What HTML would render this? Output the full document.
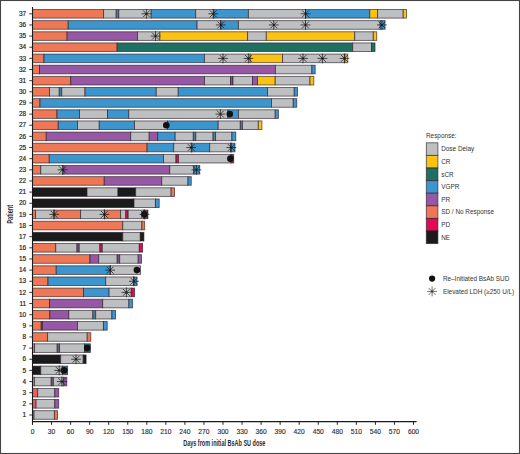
<!DOCTYPE html>
<html><head><meta charset="utf-8"><style>
html,body{margin:0;padding:0;background:#fff;}
body{width:520px;height:454px;overflow:hidden;}
svg{display:block;}
text{font-family:"Liberation Sans",sans-serif;}
</style></head><body>
<svg width="520" height="454" viewBox="0 0 520 454">
<rect x="0.5" y="0.5" width="519" height="453" fill="#fff" stroke="#444" stroke-width="1.1"/>
<g>
<rect x="32.50" y="9.50" width="71.10" height="8.6" fill="#EE7855" stroke="rgba(40,30,40,0.7)" stroke-width="0.9"/>
<rect x="103.60" y="9.50" width="12.60" height="8.6" fill="#BEBFC0" stroke="rgba(40,30,40,0.7)" stroke-width="0.9"/>
<rect x="116.20" y="9.50" width="2.60" height="8.6" fill="#4A7F98" stroke="rgba(40,30,40,0.7)" stroke-width="0.9"/>
<rect x="118.80" y="9.50" width="32.40" height="8.6" fill="#BEBFC0" stroke="rgba(40,30,40,0.7)" stroke-width="0.9"/>
<rect x="151.20" y="9.50" width="44.50" height="8.6" fill="#3C96CD" stroke="rgba(40,30,40,0.7)" stroke-width="0.9"/>
<rect x="195.70" y="9.50" width="18.10" height="8.6" fill="#BEBFC0" stroke="rgba(40,30,40,0.7)" stroke-width="0.9"/>
<rect x="213.80" y="9.50" width="34.60" height="8.6" fill="#3C96CD" stroke="rgba(40,30,40,0.7)" stroke-width="0.9"/>
<rect x="248.40" y="9.50" width="57.10" height="8.6" fill="#BEBFC0" stroke="rgba(40,30,40,0.7)" stroke-width="0.9"/>
<rect x="305.50" y="9.50" width="64.30" height="8.6" fill="#3C96CD" stroke="rgba(40,30,40,0.7)" stroke-width="0.9"/>
<rect x="369.80" y="9.50" width="7.80" height="8.6" fill="#FAC314" stroke="rgba(40,30,40,0.7)" stroke-width="0.9"/>
<rect x="377.60" y="9.50" width="25.60" height="8.6" fill="#BEBFC0" stroke="rgba(40,30,40,0.7)" stroke-width="0.9"/>
<rect x="403.20" y="9.50" width="3.30" height="8.6" fill="#FAC314" stroke="rgba(40,30,40,0.7)" stroke-width="0.9"/>
<path d="M141.50 13.80L151.30 13.80M142.94 10.34L149.86 17.26M146.40 8.90L146.40 18.70M149.86 10.34L142.94 17.26" stroke="#1a1a1a" stroke-width="0.75" fill="none"/><circle cx="146.40" cy="13.80" r="0.9" fill="#1a1a1a"/>
<path d="M208.30 13.80L218.10 13.80M209.74 10.34L216.66 17.26M213.20 8.90L213.20 18.70M216.66 10.34L209.74 17.26" stroke="#1a1a1a" stroke-width="0.75" fill="none"/><circle cx="213.20" cy="13.80" r="0.9" fill="#1a1a1a"/>
<path d="M300.60 13.80L310.40 13.80M302.04 10.34L308.96 17.26M305.50 8.90L305.50 18.70M308.96 10.34L302.04 17.26" stroke="#1a1a1a" stroke-width="0.75" fill="none"/><circle cx="305.50" cy="13.80" r="0.9" fill="#1a1a1a"/>
<rect x="32.50" y="20.64" width="35.70" height="8.6" fill="#EE7855" stroke="rgba(40,30,40,0.7)" stroke-width="0.9"/>
<rect x="68.20" y="20.64" width="128.90" height="8.6" fill="#3C96CD" stroke="rgba(40,30,40,0.7)" stroke-width="0.9"/>
<rect x="197.10" y="20.64" width="23.70" height="8.6" fill="#BEBFC0" stroke="rgba(40,30,40,0.7)" stroke-width="0.9"/>
<rect x="220.80" y="20.64" width="17.60" height="8.6" fill="#3C96CD" stroke="rgba(40,30,40,0.7)" stroke-width="0.9"/>
<rect x="238.40" y="20.64" width="141.80" height="8.6" fill="#BEBFC0" stroke="rgba(40,30,40,0.7)" stroke-width="0.9"/>
<rect x="380.20" y="20.64" width="4.80" height="8.6" fill="#3C96CD" stroke="rgba(40,30,40,0.7)" stroke-width="0.9"/>
<path d="M215.90 24.94L225.70 24.94M217.34 21.48L224.26 28.41M220.80 20.04L220.80 29.84M224.26 21.48L217.34 28.41" stroke="#1a1a1a" stroke-width="0.75" fill="none"/><circle cx="220.80" cy="24.94" r="0.9" fill="#1a1a1a"/>
<path d="M268.90 24.94L278.70 24.94M270.34 21.48L277.26 28.41M273.80 20.04L273.80 29.84M277.26 21.48L270.34 28.41" stroke="#1a1a1a" stroke-width="0.75" fill="none"/><circle cx="273.80" cy="24.94" r="0.9" fill="#1a1a1a"/>
<path d="M300.60 24.94L310.40 24.94M302.04 21.48L308.96 28.41M305.50 20.04L305.50 29.84M308.96 21.48L302.04 28.41" stroke="#1a1a1a" stroke-width="0.75" fill="none"/><circle cx="305.50" cy="24.94" r="0.9" fill="#1a1a1a"/>
<path d="M377.00 24.94L386.80 24.94M378.44 21.48L385.36 28.41M381.90 20.04L381.90 29.84M385.36 21.48L378.44 28.41" stroke="#1a1a1a" stroke-width="0.75" fill="none"/><circle cx="381.90" cy="24.94" r="0.9" fill="#1a1a1a"/>
<rect x="32.50" y="31.79" width="34.60" height="8.6" fill="#EE7855" stroke="rgba(40,30,40,0.7)" stroke-width="0.9"/>
<rect x="67.10" y="31.79" width="70.40" height="8.6" fill="#9658A5" stroke="rgba(40,30,40,0.7)" stroke-width="0.9"/>
<rect x="137.50" y="31.79" width="22.40" height="8.6" fill="#BEBFC0" stroke="rgba(40,30,40,0.7)" stroke-width="0.9"/>
<rect x="159.90" y="31.79" width="87.70" height="8.6" fill="#FAC314" stroke="rgba(40,30,40,0.7)" stroke-width="0.9"/>
<rect x="247.60" y="31.79" width="18.70" height="8.6" fill="#BEBFC0" stroke="rgba(40,30,40,0.7)" stroke-width="0.9"/>
<rect x="266.30" y="31.79" width="88.40" height="8.6" fill="#FAC314" stroke="rgba(40,30,40,0.7)" stroke-width="0.9"/>
<rect x="354.70" y="31.79" width="18.60" height="8.6" fill="#BEBFC0" stroke="rgba(40,30,40,0.7)" stroke-width="0.9"/>
<rect x="373.30" y="31.79" width="3.40" height="8.6" fill="#FAC314" stroke="rgba(40,30,40,0.7)" stroke-width="0.9"/>
<path d="M150.60 36.09L160.40 36.09M152.04 32.62L158.96 39.55M155.50 31.19L155.50 40.99M158.96 32.62L152.04 39.55" stroke="#1a1a1a" stroke-width="0.75" fill="none"/><circle cx="155.50" cy="36.09" r="0.9" fill="#1a1a1a"/>
<rect x="32.50" y="42.93" width="84.60" height="8.6" fill="#EE7855" stroke="rgba(40,30,40,0.7)" stroke-width="0.9"/>
<rect x="117.10" y="42.93" width="235.60" height="8.6" fill="#1E7062" stroke="rgba(40,30,40,0.7)" stroke-width="0.9"/>
<rect x="352.70" y="42.93" width="18.80" height="8.6" fill="#BEBFC0" stroke="rgba(40,30,40,0.7)" stroke-width="0.9"/>
<rect x="371.50" y="42.93" width="3.50" height="8.6" fill="#1E7062" stroke="rgba(40,30,40,0.7)" stroke-width="0.9"/>
<rect x="32.50" y="54.08" width="11.50" height="8.6" fill="#EE7855" stroke="rgba(40,30,40,0.7)" stroke-width="0.9"/>
<rect x="44.00" y="54.08" width="160.40" height="8.6" fill="#3C96CD" stroke="rgba(40,30,40,0.7)" stroke-width="0.9"/>
<rect x="204.40" y="54.08" width="45.80" height="8.6" fill="#BEBFC0" stroke="rgba(40,30,40,0.7)" stroke-width="0.9"/>
<rect x="250.20" y="54.08" width="32.40" height="8.6" fill="#FAC314" stroke="rgba(40,30,40,0.7)" stroke-width="0.9"/>
<rect x="282.60" y="54.08" width="62.30" height="8.6" fill="#BEBFC0" stroke="rgba(40,30,40,0.7)" stroke-width="0.9"/>
<rect x="344.90" y="54.08" width="2.90" height="8.6" fill="#FAC314" stroke="rgba(40,30,40,0.7)" stroke-width="0.9"/>
<path d="M218.10 58.38L227.90 58.38M219.54 54.91L226.46 61.84M223.00 53.48L223.00 63.28M226.46 54.91L219.54 61.84" stroke="#1a1a1a" stroke-width="0.75" fill="none"/><circle cx="223.00" cy="58.38" r="0.9" fill="#1a1a1a"/>
<path d="M243.50 58.38L253.30 58.38M244.94 54.91L251.86 61.84M248.40 53.48L248.40 63.28M251.86 54.91L244.94 61.84" stroke="#1a1a1a" stroke-width="0.75" fill="none"/><circle cx="248.40" cy="58.38" r="0.9" fill="#1a1a1a"/>
<path d="M298.10 58.38L307.90 58.38M299.54 54.91L306.46 61.84M303.00 53.48L303.00 63.28M306.46 54.91L299.54 61.84" stroke="#1a1a1a" stroke-width="0.75" fill="none"/><circle cx="303.00" cy="58.38" r="0.9" fill="#1a1a1a"/>
<path d="M317.50 58.38L327.30 58.38M318.94 54.91L325.86 61.84M322.40 53.48L322.40 63.28M325.86 54.91L318.94 61.84" stroke="#1a1a1a" stroke-width="0.75" fill="none"/><circle cx="322.40" cy="58.38" r="0.9" fill="#1a1a1a"/>
<path d="M339.50 58.38L349.30 58.38M340.94 54.91L347.86 61.84M344.40 53.48L344.40 63.28M347.86 54.91L340.94 61.84" stroke="#1a1a1a" stroke-width="0.75" fill="none"/><circle cx="344.40" cy="58.38" r="0.9" fill="#1a1a1a"/>
<rect x="32.50" y="65.22" width="7.00" height="8.6" fill="#EE7855" stroke="rgba(40,30,40,0.7)" stroke-width="0.9"/>
<rect x="39.50" y="65.22" width="235.90" height="8.6" fill="#9658A5" stroke="rgba(40,30,40,0.7)" stroke-width="0.9"/>
<rect x="275.40" y="65.22" width="36.50" height="8.6" fill="#BEBFC0" stroke="rgba(40,30,40,0.7)" stroke-width="0.9"/>
<rect x="311.90" y="65.22" width="3.30" height="8.6" fill="#3C96CD" stroke="rgba(40,30,40,0.7)" stroke-width="0.9"/>
<rect x="32.50" y="76.36" width="38.25" height="8.6" fill="#EE7855" stroke="rgba(40,30,40,0.7)" stroke-width="0.9"/>
<rect x="70.75" y="76.36" width="133.75" height="8.6" fill="#9658A5" stroke="rgba(40,30,40,0.7)" stroke-width="0.9"/>
<rect x="204.50" y="76.36" width="26.00" height="8.6" fill="#BEBFC0" stroke="rgba(40,30,40,0.7)" stroke-width="0.9"/>
<rect x="230.50" y="76.36" width="2.50" height="8.6" fill="#6E5A78" stroke="rgba(40,30,40,0.7)" stroke-width="0.9"/>
<rect x="233.00" y="76.36" width="19.50" height="8.6" fill="#BEBFC0" stroke="rgba(40,30,40,0.7)" stroke-width="0.9"/>
<rect x="252.50" y="76.36" width="5.00" height="8.6" fill="#9658A5" stroke="rgba(40,30,40,0.7)" stroke-width="0.9"/>
<rect x="257.50" y="76.36" width="17.70" height="8.6" fill="#FAC314" stroke="rgba(40,30,40,0.7)" stroke-width="0.9"/>
<rect x="275.20" y="76.36" width="34.80" height="8.6" fill="#BEBFC0" stroke="rgba(40,30,40,0.7)" stroke-width="0.9"/>
<rect x="310.00" y="76.36" width="3.80" height="8.6" fill="#FAC314" stroke="rgba(40,30,40,0.7)" stroke-width="0.9"/>
<rect x="32.50" y="87.51" width="17.00" height="8.6" fill="#EE7855" stroke="rgba(40,30,40,0.7)" stroke-width="0.9"/>
<rect x="49.50" y="87.51" width="9.75" height="8.6" fill="#BEBFC0" stroke="rgba(40,30,40,0.7)" stroke-width="0.9"/>
<rect x="59.25" y="87.51" width="2.50" height="8.6" fill="#4A7F98" stroke="rgba(40,30,40,0.7)" stroke-width="0.9"/>
<rect x="61.75" y="87.51" width="23.25" height="8.6" fill="#BEBFC0" stroke="rgba(40,30,40,0.7)" stroke-width="0.9"/>
<rect x="85.00" y="87.51" width="71.25" height="8.6" fill="#3C96CD" stroke="rgba(40,30,40,0.7)" stroke-width="0.9"/>
<rect x="156.25" y="87.51" width="22.00" height="8.6" fill="#BEBFC0" stroke="rgba(40,30,40,0.7)" stroke-width="0.9"/>
<rect x="178.25" y="87.51" width="89.25" height="8.6" fill="#3C96CD" stroke="rgba(40,30,40,0.7)" stroke-width="0.9"/>
<rect x="267.50" y="87.51" width="26.75" height="8.6" fill="#BEBFC0" stroke="rgba(40,30,40,0.7)" stroke-width="0.9"/>
<rect x="294.25" y="87.51" width="3.25" height="8.6" fill="#3C96CD" stroke="rgba(40,30,40,0.7)" stroke-width="0.9"/>
<rect x="32.50" y="98.65" width="7.50" height="8.6" fill="#EE7855" stroke="rgba(40,30,40,0.7)" stroke-width="0.9"/>
<rect x="40.00" y="98.65" width="231.50" height="8.6" fill="#3C96CD" stroke="rgba(40,30,40,0.7)" stroke-width="0.9"/>
<rect x="271.50" y="98.65" width="21.75" height="8.6" fill="#BEBFC0" stroke="rgba(40,30,40,0.7)" stroke-width="0.9"/>
<rect x="293.25" y="98.65" width="3.50" height="8.6" fill="#3C96CD" stroke="rgba(40,30,40,0.7)" stroke-width="0.9"/>
<rect x="32.50" y="109.80" width="24.50" height="8.6" fill="#EE7855" stroke="rgba(40,30,40,0.7)" stroke-width="0.9"/>
<rect x="57.00" y="109.80" width="22.50" height="8.6" fill="#3C96CD" stroke="rgba(40,30,40,0.7)" stroke-width="0.9"/>
<rect x="79.50" y="109.80" width="28.00" height="8.6" fill="#BEBFC0" stroke="rgba(40,30,40,0.7)" stroke-width="0.9"/>
<rect x="107.50" y="109.80" width="21.25" height="8.6" fill="#3C96CD" stroke="rgba(40,30,40,0.7)" stroke-width="0.9"/>
<rect x="128.75" y="109.80" width="99.25" height="8.6" fill="#BEBFC0" stroke="rgba(40,30,40,0.7)" stroke-width="0.9"/>
<rect x="228.00" y="109.80" width="10.40" height="8.6" fill="#3C96CD" stroke="rgba(40,30,40,0.7)" stroke-width="0.9"/>
<rect x="238.40" y="109.80" width="36.80" height="8.6" fill="#BEBFC0" stroke="rgba(40,30,40,0.7)" stroke-width="0.9"/>
<rect x="275.20" y="109.80" width="3.20" height="8.6" fill="#3C96CD" stroke="rgba(40,30,40,0.7)" stroke-width="0.9"/>
<circle cx="229.80" cy="114.10" r="3.3" fill="#111"/>
<path d="M215.50 114.10L225.30 114.10M216.94 110.63L223.86 117.56M220.40 109.20L220.40 119.00M223.86 110.63L216.94 117.56" stroke="#1a1a1a" stroke-width="0.75" fill="none"/><circle cx="220.40" cy="114.10" r="0.9" fill="#1a1a1a"/>
<rect x="32.50" y="120.94" width="25.75" height="8.6" fill="#EE7855" stroke="rgba(40,30,40,0.7)" stroke-width="0.9"/>
<rect x="58.25" y="120.94" width="19.25" height="8.6" fill="#3C96CD" stroke="rgba(40,30,40,0.7)" stroke-width="0.9"/>
<rect x="77.50" y="120.94" width="21.75" height="8.6" fill="#BEBFC0" stroke="rgba(40,30,40,0.7)" stroke-width="0.9"/>
<rect x="99.25" y="120.94" width="35.25" height="8.6" fill="#3C96CD" stroke="rgba(40,30,40,0.7)" stroke-width="0.9"/>
<rect x="134.50" y="120.94" width="33.00" height="8.6" fill="#BEBFC0" stroke="rgba(40,30,40,0.7)" stroke-width="0.9"/>
<rect x="167.50" y="120.94" width="50.70" height="8.6" fill="#3C96CD" stroke="rgba(40,30,40,0.7)" stroke-width="0.9"/>
<rect x="218.20" y="120.94" width="22.10" height="8.6" fill="#BEBFC0" stroke="rgba(40,30,40,0.7)" stroke-width="0.9"/>
<rect x="240.30" y="120.94" width="2.10" height="8.6" fill="#4A7F98" stroke="rgba(40,30,40,0.7)" stroke-width="0.9"/>
<rect x="242.40" y="120.94" width="15.90" height="8.6" fill="#BEBFC0" stroke="rgba(40,30,40,0.7)" stroke-width="0.9"/>
<rect x="258.30" y="120.94" width="3.60" height="8.6" fill="#FAC314" stroke="rgba(40,30,40,0.7)" stroke-width="0.9"/>
<circle cx="166.30" cy="125.24" r="3.3" fill="#111"/>
<rect x="32.50" y="132.08" width="13.75" height="8.6" fill="#EE7855" stroke="rgba(40,30,40,0.7)" stroke-width="0.9"/>
<rect x="46.25" y="132.08" width="84.50" height="8.6" fill="#9658A5" stroke="rgba(40,30,40,0.7)" stroke-width="0.9"/>
<rect x="130.75" y="132.08" width="18.45" height="8.6" fill="#BEBFC0" stroke="rgba(40,30,40,0.7)" stroke-width="0.9"/>
<rect x="149.20" y="132.08" width="8.50" height="8.6" fill="#9658A5" stroke="rgba(40,30,40,0.7)" stroke-width="0.9"/>
<rect x="157.70" y="132.08" width="17.50" height="8.6" fill="#3C96CD" stroke="rgba(40,30,40,0.7)" stroke-width="0.9"/>
<rect x="175.20" y="132.08" width="18.10" height="8.6" fill="#BEBFC0" stroke="rgba(40,30,40,0.7)" stroke-width="0.9"/>
<rect x="193.30" y="132.08" width="2.50" height="8.6" fill="#4A7F98" stroke="rgba(40,30,40,0.7)" stroke-width="0.9"/>
<rect x="195.80" y="132.08" width="17.30" height="8.6" fill="#BEBFC0" stroke="rgba(40,30,40,0.7)" stroke-width="0.9"/>
<rect x="213.10" y="132.08" width="2.50" height="8.6" fill="#4A7F98" stroke="rgba(40,30,40,0.7)" stroke-width="0.9"/>
<rect x="215.60" y="132.08" width="16.30" height="8.6" fill="#BEBFC0" stroke="rgba(40,30,40,0.7)" stroke-width="0.9"/>
<rect x="231.90" y="132.08" width="3.90" height="8.6" fill="#3C96CD" stroke="rgba(40,30,40,0.7)" stroke-width="0.9"/>
<rect x="32.50" y="143.23" width="114.60" height="8.6" fill="#EE7855" stroke="rgba(40,30,40,0.7)" stroke-width="0.9"/>
<rect x="147.10" y="143.23" width="26.60" height="8.6" fill="#3C96CD" stroke="rgba(40,30,40,0.7)" stroke-width="0.9"/>
<rect x="173.70" y="143.23" width="18.20" height="8.6" fill="#BEBFC0" stroke="rgba(40,30,40,0.7)" stroke-width="0.9"/>
<rect x="191.90" y="143.23" width="17.80" height="8.6" fill="#3C96CD" stroke="rgba(40,30,40,0.7)" stroke-width="0.9"/>
<rect x="209.70" y="143.23" width="20.80" height="8.6" fill="#BEBFC0" stroke="rgba(40,30,40,0.7)" stroke-width="0.9"/>
<rect x="230.50" y="143.23" width="4.50" height="8.6" fill="#3C96CD" stroke="rgba(40,30,40,0.7)" stroke-width="0.9"/>
<path d="M186.30 147.53L196.10 147.53M187.74 144.06L194.66 150.99M191.20 142.63L191.20 152.43M194.66 144.06L187.74 150.99" stroke="#1a1a1a" stroke-width="0.75" fill="none"/><circle cx="191.20" cy="147.53" r="0.9" fill="#1a1a1a"/>
<path d="M226.40 147.53L236.20 147.53M227.84 144.06L234.76 150.99M231.30 142.63L231.30 152.43M234.76 144.06L227.84 150.99" stroke="#1a1a1a" stroke-width="0.75" fill="none"/><circle cx="231.30" cy="147.53" r="0.9" fill="#1a1a1a"/>
<rect x="32.50" y="154.37" width="16.75" height="8.6" fill="#EE7855" stroke="rgba(40,30,40,0.7)" stroke-width="0.9"/>
<rect x="49.25" y="154.37" width="114.25" height="8.6" fill="#3C96CD" stroke="rgba(40,30,40,0.7)" stroke-width="0.9"/>
<rect x="163.50" y="154.37" width="12.50" height="8.6" fill="#BEBFC0" stroke="rgba(40,30,40,0.7)" stroke-width="0.9"/>
<rect x="176.00" y="154.37" width="2.50" height="8.6" fill="#E00A55" stroke="rgba(40,30,40,0.7)" stroke-width="0.9"/>
<rect x="178.50" y="154.37" width="52.50" height="8.6" fill="#BEBFC0" stroke="rgba(40,30,40,0.7)" stroke-width="0.9"/>
<rect x="231.00" y="154.37" width="2.70" height="8.6" fill="#B02850" stroke="rgba(40,30,40,0.7)" stroke-width="0.9"/>
<circle cx="230.40" cy="158.67" r="3.3" fill="#111"/>
<rect x="32.50" y="165.52" width="8.25" height="8.6" fill="#EE7855" stroke="rgba(40,30,40,0.7)" stroke-width="0.9"/>
<rect x="40.75" y="165.52" width="23.00" height="8.6" fill="#BEBFC0" stroke="rgba(40,30,40,0.7)" stroke-width="0.9"/>
<rect x="63.75" y="165.52" width="106.05" height="8.6" fill="#9658A5" stroke="rgba(40,30,40,0.7)" stroke-width="0.9"/>
<rect x="169.80" y="165.52" width="24.00" height="8.6" fill="#BEBFC0" stroke="rgba(40,30,40,0.7)" stroke-width="0.9"/>
<rect x="193.80" y="165.52" width="5.90" height="8.6" fill="#3C96CD" stroke="rgba(40,30,40,0.7)" stroke-width="0.9"/>
<path d="M57.60 169.82L67.40 169.82M59.04 166.35L65.96 173.28M62.50 164.92L62.50 174.72M65.96 166.35L59.04 173.28" stroke="#1a1a1a" stroke-width="0.75" fill="none"/><circle cx="62.50" cy="169.82" r="0.9" fill="#1a1a1a"/>
<path d="M191.50 169.82L201.30 169.82M192.94 166.35L199.86 173.28M196.40 164.92L196.40 174.72M199.86 166.35L192.94 173.28" stroke="#1a1a1a" stroke-width="0.75" fill="none"/><circle cx="196.40" cy="169.82" r="0.9" fill="#1a1a1a"/>
<rect x="32.50" y="176.66" width="71.75" height="8.6" fill="#EE7855" stroke="rgba(40,30,40,0.7)" stroke-width="0.9"/>
<rect x="104.25" y="176.66" width="57.50" height="8.6" fill="#9658A5" stroke="rgba(40,30,40,0.7)" stroke-width="0.9"/>
<rect x="161.75" y="176.66" width="26.25" height="8.6" fill="#BEBFC0" stroke="rgba(40,30,40,0.7)" stroke-width="0.9"/>
<rect x="188.00" y="176.66" width="3.25" height="8.6" fill="#3C96CD" stroke="rgba(40,30,40,0.7)" stroke-width="0.9"/>
<rect x="32.50" y="187.80" width="54.50" height="8.6" fill="#1A1B1A" stroke="rgba(40,30,40,0.7)" stroke-width="0.9"/>
<rect x="87.00" y="187.80" width="31.00" height="8.6" fill="#BEBFC0" stroke="rgba(40,30,40,0.7)" stroke-width="0.9"/>
<rect x="118.00" y="187.80" width="17.70" height="8.6" fill="#1A1B1A" stroke="rgba(40,30,40,0.7)" stroke-width="0.9"/>
<rect x="135.70" y="187.80" width="35.40" height="8.6" fill="#BEBFC0" stroke="rgba(40,30,40,0.7)" stroke-width="0.9"/>
<rect x="171.10" y="187.80" width="3.40" height="8.6" fill="#EE7855" stroke="rgba(40,30,40,0.7)" stroke-width="0.9"/>
<rect x="32.50" y="198.95" width="101.50" height="8.6" fill="#1A1B1A" stroke="rgba(40,30,40,0.7)" stroke-width="0.9"/>
<rect x="134.00" y="198.95" width="21.40" height="8.6" fill="#BEBFC0" stroke="rgba(40,30,40,0.7)" stroke-width="0.9"/>
<rect x="155.40" y="198.95" width="3.80" height="8.6" fill="#3C96CD" stroke="rgba(40,30,40,0.7)" stroke-width="0.9"/>
<rect x="32.50" y="210.09" width="3.10" height="8.6" fill="#EE7855" stroke="rgba(40,30,40,0.7)" stroke-width="0.9"/>
<rect x="35.60" y="210.09" width="18.40" height="8.6" fill="#BEBFC0" stroke="rgba(40,30,40,0.7)" stroke-width="0.9"/>
<rect x="54.00" y="210.09" width="26.60" height="8.6" fill="#EE7855" stroke="rgba(40,30,40,0.7)" stroke-width="0.9"/>
<rect x="80.60" y="210.09" width="23.80" height="8.6" fill="#BEBFC0" stroke="rgba(40,30,40,0.7)" stroke-width="0.9"/>
<rect x="104.40" y="210.09" width="16.20" height="8.6" fill="#EE7855" stroke="rgba(40,30,40,0.7)" stroke-width="0.9"/>
<rect x="120.60" y="210.09" width="5.20" height="8.6" fill="#BEBFC0" stroke="rgba(40,30,40,0.7)" stroke-width="0.9"/>
<rect x="125.80" y="210.09" width="2.40" height="8.6" fill="#E00A55" stroke="rgba(40,30,40,0.7)" stroke-width="0.9"/>
<rect x="128.20" y="210.09" width="15.60" height="8.6" fill="#BEBFC0" stroke="rgba(40,30,40,0.7)" stroke-width="0.9"/>
<rect x="143.80" y="210.09" width="4.10" height="8.6" fill="#B02850" stroke="rgba(40,30,40,0.7)" stroke-width="0.9"/>
<circle cx="144.30" cy="214.39" r="3.3" fill="#111"/>
<path d="M49.30 214.39L59.10 214.39M50.74 210.93L57.66 217.86M54.20 209.49L54.20 219.29M57.66 210.93L50.74 217.86" stroke="#1a1a1a" stroke-width="0.75" fill="none"/><circle cx="54.20" cy="214.39" r="0.9" fill="#1a1a1a"/>
<path d="M99.50 214.39L109.30 214.39M100.94 210.93L107.86 217.86M104.40 209.49L104.40 219.29M107.86 210.93L100.94 217.86" stroke="#1a1a1a" stroke-width="0.75" fill="none"/><circle cx="104.40" cy="214.39" r="0.9" fill="#1a1a1a"/>
<path d="M139.60 214.39L149.40 214.39M141.04 210.93L147.96 217.86M144.50 209.49L144.50 219.29M147.96 210.93L141.04 217.86" stroke="#1a1a1a" stroke-width="0.75" fill="none"/><circle cx="144.50" cy="214.39" r="0.9" fill="#1a1a1a"/>
<rect x="32.50" y="221.24" width="90.25" height="8.6" fill="#EE7855" stroke="rgba(40,30,40,0.7)" stroke-width="0.9"/>
<rect x="122.75" y="221.24" width="19.15" height="8.6" fill="#BEBFC0" stroke="rgba(40,30,40,0.7)" stroke-width="0.9"/>
<rect x="141.90" y="221.24" width="2.80" height="8.6" fill="#EE7855" stroke="rgba(40,30,40,0.7)" stroke-width="0.9"/>
<rect x="32.50" y="232.38" width="90.30" height="8.6" fill="#1A1B1A" stroke="rgba(40,30,40,0.7)" stroke-width="0.9"/>
<rect x="122.80" y="232.38" width="17.50" height="8.6" fill="#BEBFC0" stroke="rgba(40,30,40,0.7)" stroke-width="0.9"/>
<rect x="140.30" y="232.38" width="3.60" height="8.6" fill="#1A1B1A" stroke="rgba(40,30,40,0.7)" stroke-width="0.9"/>
<rect x="32.50" y="243.52" width="23.25" height="8.6" fill="#EE7855" stroke="rgba(40,30,40,0.7)" stroke-width="0.9"/>
<rect x="55.75" y="243.52" width="21.25" height="8.6" fill="#BEBFC0" stroke="rgba(40,30,40,0.7)" stroke-width="0.9"/>
<rect x="77.00" y="243.52" width="2.25" height="8.6" fill="#6E5A78" stroke="rgba(40,30,40,0.7)" stroke-width="0.9"/>
<rect x="79.25" y="243.52" width="20.65" height="8.6" fill="#BEBFC0" stroke="rgba(40,30,40,0.7)" stroke-width="0.9"/>
<rect x="99.90" y="243.52" width="2.40" height="8.6" fill="#E00A55" stroke="rgba(40,30,40,0.7)" stroke-width="0.9"/>
<rect x="102.30" y="243.52" width="37.00" height="8.6" fill="#BEBFC0" stroke="rgba(40,30,40,0.7)" stroke-width="0.9"/>
<rect x="139.30" y="243.52" width="3.30" height="8.6" fill="#E00A55" stroke="rgba(40,30,40,0.7)" stroke-width="0.9"/>
<rect x="32.50" y="254.67" width="57.50" height="8.6" fill="#EE7855" stroke="rgba(40,30,40,0.7)" stroke-width="0.9"/>
<rect x="90.00" y="254.67" width="8.70" height="8.6" fill="#9658A5" stroke="rgba(40,30,40,0.7)" stroke-width="0.9"/>
<rect x="98.70" y="254.67" width="18.50" height="8.6" fill="#BEBFC0" stroke="rgba(40,30,40,0.7)" stroke-width="0.9"/>
<rect x="117.20" y="254.67" width="2.50" height="8.6" fill="#6E5A78" stroke="rgba(40,30,40,0.7)" stroke-width="0.9"/>
<rect x="119.70" y="254.67" width="18.50" height="8.6" fill="#BEBFC0" stroke="rgba(40,30,40,0.7)" stroke-width="0.9"/>
<rect x="138.20" y="254.67" width="3.30" height="8.6" fill="#9658A5" stroke="rgba(40,30,40,0.7)" stroke-width="0.9"/>
<rect x="32.50" y="265.81" width="23.75" height="8.6" fill="#EE7855" stroke="rgba(40,30,40,0.7)" stroke-width="0.9"/>
<rect x="56.25" y="265.81" width="54.15" height="8.6" fill="#3C96CD" stroke="rgba(40,30,40,0.7)" stroke-width="0.9"/>
<rect x="110.40" y="265.81" width="30.10" height="8.6" fill="#BEBFC0" stroke="rgba(40,30,40,0.7)" stroke-width="0.9"/>
<circle cx="136.90" cy="270.11" r="3.3" fill="#111"/>
<path d="M105.20 270.11L115.00 270.11M106.64 266.65L113.56 273.58M110.10 265.21L110.10 275.01M113.56 266.65L106.64 273.58" stroke="#1a1a1a" stroke-width="0.75" fill="none"/><circle cx="110.10" cy="270.11" r="0.9" fill="#1a1a1a"/>
<rect x="32.50" y="276.96" width="15.50" height="8.6" fill="#EE7855" stroke="rgba(40,30,40,0.7)" stroke-width="0.9"/>
<rect x="48.00" y="276.96" width="57.70" height="8.6" fill="#3C96CD" stroke="rgba(40,30,40,0.7)" stroke-width="0.9"/>
<rect x="105.70" y="276.96" width="28.00" height="8.6" fill="#BEBFC0" stroke="rgba(40,30,40,0.7)" stroke-width="0.9"/>
<rect x="133.70" y="276.96" width="3.30" height="8.6" fill="#3C96CD" stroke="rgba(40,30,40,0.7)" stroke-width="0.9"/>
<path d="M129.00 281.26L138.80 281.26M130.44 277.79L137.36 284.72M133.90 276.36L133.90 286.16M137.36 277.79L130.44 284.72" stroke="#1a1a1a" stroke-width="0.75" fill="none"/><circle cx="133.90" cy="281.26" r="0.9" fill="#1a1a1a"/>
<rect x="32.50" y="288.10" width="51.00" height="8.6" fill="#EE7855" stroke="rgba(40,30,40,0.7)" stroke-width="0.9"/>
<rect x="83.50" y="288.10" width="25.60" height="8.6" fill="#3C96CD" stroke="rgba(40,30,40,0.7)" stroke-width="0.9"/>
<rect x="109.10" y="288.10" width="22.15" height="8.6" fill="#BEBFC0" stroke="rgba(40,30,40,0.7)" stroke-width="0.9"/>
<rect x="131.25" y="288.10" width="3.35" height="8.6" fill="#E00A55" stroke="rgba(40,30,40,0.7)" stroke-width="0.9"/>
<path d="M121.50 292.40L131.30 292.40M122.94 288.94L129.86 295.86M126.40 287.50L126.40 297.30M129.86 288.94L122.94 295.86" stroke="#1a1a1a" stroke-width="0.75" fill="none"/><circle cx="126.40" cy="292.40" r="0.9" fill="#1a1a1a"/>
<rect x="32.50" y="299.24" width="17.10" height="8.6" fill="#EE7855" stroke="rgba(40,30,40,0.7)" stroke-width="0.9"/>
<rect x="49.60" y="299.24" width="53.10" height="8.6" fill="#9658A5" stroke="rgba(40,30,40,0.7)" stroke-width="0.9"/>
<rect x="102.70" y="299.24" width="26.20" height="8.6" fill="#BEBFC0" stroke="rgba(40,30,40,0.7)" stroke-width="0.9"/>
<rect x="128.90" y="299.24" width="3.70" height="8.6" fill="#3C96CD" stroke="rgba(40,30,40,0.7)" stroke-width="0.9"/>
<rect x="32.50" y="310.39" width="17.30" height="8.6" fill="#EE7855" stroke="rgba(40,30,40,0.7)" stroke-width="0.9"/>
<rect x="49.80" y="310.39" width="19.00" height="8.6" fill="#9658A5" stroke="rgba(40,30,40,0.7)" stroke-width="0.9"/>
<rect x="68.80" y="310.39" width="24.10" height="8.6" fill="#BEBFC0" stroke="rgba(40,30,40,0.7)" stroke-width="0.9"/>
<rect x="92.90" y="310.39" width="2.80" height="8.6" fill="#4A7F98" stroke="rgba(40,30,40,0.7)" stroke-width="0.9"/>
<rect x="95.70" y="310.39" width="16.20" height="8.6" fill="#BEBFC0" stroke="rgba(40,30,40,0.7)" stroke-width="0.9"/>
<rect x="111.90" y="310.39" width="3.70" height="8.6" fill="#3C96CD" stroke="rgba(40,30,40,0.7)" stroke-width="0.9"/>
<rect x="32.50" y="321.53" width="8.70" height="8.6" fill="#EE7855" stroke="rgba(40,30,40,0.7)" stroke-width="0.9"/>
<rect x="41.20" y="321.53" width="1.20" height="8.6" fill="#B02850" stroke="rgba(40,30,40,0.7)" stroke-width="0.9"/>
<rect x="42.40" y="321.53" width="35.10" height="8.6" fill="#9658A5" stroke="rgba(40,30,40,0.7)" stroke-width="0.9"/>
<rect x="77.50" y="321.53" width="25.90" height="8.6" fill="#BEBFC0" stroke="rgba(40,30,40,0.7)" stroke-width="0.9"/>
<rect x="103.40" y="321.53" width="3.80" height="8.6" fill="#3C96CD" stroke="rgba(40,30,40,0.7)" stroke-width="0.9"/>
<rect x="32.50" y="332.68" width="15.10" height="8.6" fill="#EE7855" stroke="rgba(40,30,40,0.7)" stroke-width="0.9"/>
<rect x="47.60" y="332.68" width="39.60" height="8.6" fill="#BEBFC0" stroke="rgba(40,30,40,0.7)" stroke-width="0.9"/>
<rect x="87.20" y="332.68" width="3.60" height="8.6" fill="#EE7855" stroke="rgba(40,30,40,0.7)" stroke-width="0.9"/>
<rect x="32.50" y="343.82" width="2.10" height="8.6" fill="#EE7855" stroke="rgba(40,30,40,0.7)" stroke-width="0.9"/>
<rect x="34.60" y="343.82" width="22.60" height="8.6" fill="#BEBFC0" stroke="rgba(40,30,40,0.7)" stroke-width="0.9"/>
<rect x="57.20" y="343.82" width="2.40" height="8.6" fill="#6E5A78" stroke="rgba(40,30,40,0.7)" stroke-width="0.9"/>
<rect x="59.60" y="343.82" width="25.00" height="8.6" fill="#BEBFC0" stroke="rgba(40,30,40,0.7)" stroke-width="0.9"/>
<rect x="84.60" y="343.82" width="5.80" height="8.6" fill="#1E7062" stroke="rgba(40,30,40,0.7)" stroke-width="0.9"/>
<circle cx="87.20" cy="348.12" r="3.3" fill="#111"/>
<rect x="32.50" y="354.96" width="28.20" height="8.6" fill="#1A1B1A" stroke="rgba(40,30,40,0.7)" stroke-width="0.9"/>
<rect x="60.70" y="354.96" width="22.50" height="8.6" fill="#BEBFC0" stroke="rgba(40,30,40,0.7)" stroke-width="0.9"/>
<rect x="83.20" y="354.96" width="2.90" height="8.6" fill="#1A1B1A" stroke="rgba(40,30,40,0.7)" stroke-width="0.9"/>
<path d="M71.10 359.26L80.90 359.26M72.54 355.80L79.46 362.73M76.00 354.36L76.00 364.16M79.46 355.80L72.54 362.73" stroke="#1a1a1a" stroke-width="0.75" fill="none"/><circle cx="76.00" cy="359.26" r="0.9" fill="#1a1a1a"/>
<rect x="32.50" y="366.11" width="8.30" height="8.6" fill="#1A1B1A" stroke="rgba(40,30,40,0.7)" stroke-width="0.9"/>
<rect x="40.80" y="366.11" width="21.60" height="8.6" fill="#BEBFC0" stroke="rgba(40,30,40,0.7)" stroke-width="0.9"/>
<rect x="62.40" y="366.11" width="5.20" height="8.6" fill="#4A7F98" stroke="rgba(40,30,40,0.7)" stroke-width="0.9"/>
<circle cx="64.20" cy="370.41" r="3.3" fill="#111"/>
<path d="M54.30 370.41L64.10 370.41M55.74 366.94L62.66 373.87M59.20 365.51L59.20 375.31M62.66 366.94L55.74 373.87" stroke="#1a1a1a" stroke-width="0.75" fill="none"/><circle cx="59.20" cy="370.41" r="0.9" fill="#1a1a1a"/>
<rect x="32.50" y="377.25" width="1.90" height="8.6" fill="#EE7855" stroke="rgba(40,30,40,0.7)" stroke-width="0.9"/>
<rect x="34.40" y="377.25" width="16.80" height="8.6" fill="#BEBFC0" stroke="rgba(40,30,40,0.7)" stroke-width="0.9"/>
<rect x="51.20" y="377.25" width="2.20" height="8.6" fill="#6E5A78" stroke="rgba(40,30,40,0.7)" stroke-width="0.9"/>
<rect x="53.40" y="377.25" width="9.90" height="8.6" fill="#BEBFC0" stroke="rgba(40,30,40,0.7)" stroke-width="0.9"/>
<rect x="63.30" y="377.25" width="3.50" height="8.6" fill="#9658A5" stroke="rgba(40,30,40,0.7)" stroke-width="0.9"/>
<path d="M56.90 381.55L66.70 381.55M58.34 378.09L65.26 385.02M61.80 376.65L61.80 386.45M65.26 378.09L58.34 385.02" stroke="#1a1a1a" stroke-width="0.75" fill="none"/><circle cx="61.80" cy="381.55" r="0.9" fill="#1a1a1a"/>
<rect x="32.50" y="388.40" width="5.20" height="8.6" fill="#EE5F5A" stroke="rgba(40,30,40,0.7)" stroke-width="0.9"/>
<rect x="37.70" y="388.40" width="17.10" height="8.6" fill="#BEBFC0" stroke="rgba(40,30,40,0.7)" stroke-width="0.9"/>
<rect x="54.80" y="388.40" width="3.90" height="8.6" fill="#9658A5" stroke="rgba(40,30,40,0.7)" stroke-width="0.9"/>
<rect x="32.50" y="399.54" width="3.60" height="8.6" fill="#EB5560" stroke="rgba(40,30,40,0.7)" stroke-width="0.9"/>
<rect x="36.10" y="399.54" width="18.70" height="8.6" fill="#BEBFC0" stroke="rgba(40,30,40,0.7)" stroke-width="0.9"/>
<rect x="54.80" y="399.54" width="3.90" height="8.6" fill="#9658A5" stroke="rgba(40,30,40,0.7)" stroke-width="0.9"/>
<rect x="32.50" y="410.68" width="1.60" height="8.6" fill="#EE7855" stroke="rgba(40,30,40,0.7)" stroke-width="0.9"/>
<rect x="34.10" y="410.68" width="20.30" height="8.6" fill="#BEBFC0" stroke="rgba(40,30,40,0.7)" stroke-width="0.9"/>
<rect x="54.40" y="410.68" width="3.10" height="8.6" fill="#EE7855" stroke="rgba(40,30,40,0.7)" stroke-width="0.9"/>
</g>
<line x1="32.5" y1="7" x2="32.5" y2="424.8" stroke="#1a1a1a" stroke-width="1.1"/>
<line x1="32" y1="421.6" x2="416.6" y2="421.6" stroke="#1a1a1a" stroke-width="1.3"/>
<g font-size="6.5" fill="#222" stroke="#222" stroke-width="0.18">
<line x1="29.3" y1="414.98" x2="32.5" y2="414.98" stroke="#222" stroke-width="0.9"/>
<text x="26.2" y="417.18" text-anchor="end">1</text>
<line x1="29.3" y1="403.84" x2="32.5" y2="403.84" stroke="#222" stroke-width="0.9"/>
<text x="26.2" y="406.04" text-anchor="end">2</text>
<line x1="29.3" y1="392.70" x2="32.5" y2="392.70" stroke="#222" stroke-width="0.9"/>
<text x="26.2" y="394.90" text-anchor="end">3</text>
<line x1="29.3" y1="381.55" x2="32.5" y2="381.55" stroke="#222" stroke-width="0.9"/>
<text x="26.2" y="383.75" text-anchor="end">4</text>
<line x1="29.3" y1="370.41" x2="32.5" y2="370.41" stroke="#222" stroke-width="0.9"/>
<text x="26.2" y="372.61" text-anchor="end">5</text>
<line x1="29.3" y1="359.26" x2="32.5" y2="359.26" stroke="#222" stroke-width="0.9"/>
<text x="26.2" y="361.46" text-anchor="end">6</text>
<line x1="29.3" y1="348.12" x2="32.5" y2="348.12" stroke="#222" stroke-width="0.9"/>
<text x="26.2" y="350.32" text-anchor="end">7</text>
<line x1="29.3" y1="336.98" x2="32.5" y2="336.98" stroke="#222" stroke-width="0.9"/>
<text x="26.2" y="339.18" text-anchor="end">8</text>
<line x1="29.3" y1="325.83" x2="32.5" y2="325.83" stroke="#222" stroke-width="0.9"/>
<text x="26.2" y="328.03" text-anchor="end">9</text>
<line x1="29.3" y1="314.69" x2="32.5" y2="314.69" stroke="#222" stroke-width="0.9"/>
<text x="26.2" y="316.89" text-anchor="end">10</text>
<line x1="29.3" y1="303.54" x2="32.5" y2="303.54" stroke="#222" stroke-width="0.9"/>
<text x="26.2" y="305.74" text-anchor="end">11</text>
<line x1="29.3" y1="292.40" x2="32.5" y2="292.40" stroke="#222" stroke-width="0.9"/>
<text x="26.2" y="294.60" text-anchor="end">12</text>
<line x1="29.3" y1="281.26" x2="32.5" y2="281.26" stroke="#222" stroke-width="0.9"/>
<text x="26.2" y="283.46" text-anchor="end">13</text>
<line x1="29.3" y1="270.11" x2="32.5" y2="270.11" stroke="#222" stroke-width="0.9"/>
<text x="26.2" y="272.31" text-anchor="end">14</text>
<line x1="29.3" y1="258.97" x2="32.5" y2="258.97" stroke="#222" stroke-width="0.9"/>
<text x="26.2" y="261.17" text-anchor="end">15</text>
<line x1="29.3" y1="247.82" x2="32.5" y2="247.82" stroke="#222" stroke-width="0.9"/>
<text x="26.2" y="250.02" text-anchor="end">16</text>
<line x1="29.3" y1="236.68" x2="32.5" y2="236.68" stroke="#222" stroke-width="0.9"/>
<text x="26.2" y="238.88" text-anchor="end">17</text>
<line x1="29.3" y1="225.54" x2="32.5" y2="225.54" stroke="#222" stroke-width="0.9"/>
<text x="26.2" y="227.74" text-anchor="end">18</text>
<line x1="29.3" y1="214.39" x2="32.5" y2="214.39" stroke="#222" stroke-width="0.9"/>
<text x="26.2" y="216.59" text-anchor="end">19</text>
<line x1="29.3" y1="203.25" x2="32.5" y2="203.25" stroke="#222" stroke-width="0.9"/>
<text x="26.2" y="205.45" text-anchor="end">20</text>
<line x1="29.3" y1="192.10" x2="32.5" y2="192.10" stroke="#222" stroke-width="0.9"/>
<text x="26.2" y="194.30" text-anchor="end">21</text>
<line x1="29.3" y1="180.96" x2="32.5" y2="180.96" stroke="#222" stroke-width="0.9"/>
<text x="26.2" y="183.16" text-anchor="end">22</text>
<line x1="29.3" y1="169.82" x2="32.5" y2="169.82" stroke="#222" stroke-width="0.9"/>
<text x="26.2" y="172.02" text-anchor="end">23</text>
<line x1="29.3" y1="158.67" x2="32.5" y2="158.67" stroke="#222" stroke-width="0.9"/>
<text x="26.2" y="160.87" text-anchor="end">24</text>
<line x1="29.3" y1="147.53" x2="32.5" y2="147.53" stroke="#222" stroke-width="0.9"/>
<text x="26.2" y="149.73" text-anchor="end">25</text>
<line x1="29.3" y1="136.38" x2="32.5" y2="136.38" stroke="#222" stroke-width="0.9"/>
<text x="26.2" y="138.58" text-anchor="end">26</text>
<line x1="29.3" y1="125.24" x2="32.5" y2="125.24" stroke="#222" stroke-width="0.9"/>
<text x="26.2" y="127.44" text-anchor="end">27</text>
<line x1="29.3" y1="114.10" x2="32.5" y2="114.10" stroke="#222" stroke-width="0.9"/>
<text x="26.2" y="116.30" text-anchor="end">28</text>
<line x1="29.3" y1="102.95" x2="32.5" y2="102.95" stroke="#222" stroke-width="0.9"/>
<text x="26.2" y="105.15" text-anchor="end">29</text>
<line x1="29.3" y1="91.81" x2="32.5" y2="91.81" stroke="#222" stroke-width="0.9"/>
<text x="26.2" y="94.01" text-anchor="end">30</text>
<line x1="29.3" y1="80.66" x2="32.5" y2="80.66" stroke="#222" stroke-width="0.9"/>
<text x="26.2" y="82.86" text-anchor="end">31</text>
<line x1="29.3" y1="69.52" x2="32.5" y2="69.52" stroke="#222" stroke-width="0.9"/>
<text x="26.2" y="71.72" text-anchor="end">32</text>
<line x1="29.3" y1="58.38" x2="32.5" y2="58.38" stroke="#222" stroke-width="0.9"/>
<text x="26.2" y="60.58" text-anchor="end">33</text>
<line x1="29.3" y1="47.23" x2="32.5" y2="47.23" stroke="#222" stroke-width="0.9"/>
<text x="26.2" y="49.43" text-anchor="end">34</text>
<line x1="29.3" y1="36.09" x2="32.5" y2="36.09" stroke="#222" stroke-width="0.9"/>
<text x="26.2" y="38.29" text-anchor="end">35</text>
<line x1="29.3" y1="24.94" x2="32.5" y2="24.94" stroke="#222" stroke-width="0.9"/>
<text x="26.2" y="27.14" text-anchor="end">36</text>
<line x1="29.3" y1="13.80" x2="32.5" y2="13.80" stroke="#222" stroke-width="0.9"/>
<text x="26.2" y="16.00" text-anchor="end">37</text>
</g>
<g font-size="6.7" fill="#333" stroke="#333" stroke-width="0.15">
<line x1="32.50" y1="421.5" x2="32.50" y2="424.8" stroke="#222" stroke-width="1"/>
<text x="32.50" y="433.8" text-anchor="middle">0</text>
<line x1="51.55" y1="421.5" x2="51.55" y2="424.8" stroke="#222" stroke-width="1"/>
<text x="51.55" y="433.8" text-anchor="middle">30</text>
<line x1="70.60" y1="421.5" x2="70.60" y2="424.8" stroke="#222" stroke-width="1"/>
<text x="70.60" y="433.8" text-anchor="middle">60</text>
<line x1="89.65" y1="421.5" x2="89.65" y2="424.8" stroke="#222" stroke-width="1"/>
<text x="89.65" y="433.8" text-anchor="middle">90</text>
<line x1="108.70" y1="421.5" x2="108.70" y2="424.8" stroke="#222" stroke-width="1"/>
<text x="108.70" y="433.8" text-anchor="middle">120</text>
<line x1="127.75" y1="421.5" x2="127.75" y2="424.8" stroke="#222" stroke-width="1"/>
<text x="127.75" y="433.8" text-anchor="middle">150</text>
<line x1="146.80" y1="421.5" x2="146.80" y2="424.8" stroke="#222" stroke-width="1"/>
<text x="146.80" y="433.8" text-anchor="middle">180</text>
<line x1="165.85" y1="421.5" x2="165.85" y2="424.8" stroke="#222" stroke-width="1"/>
<text x="165.85" y="433.8" text-anchor="middle">210</text>
<line x1="184.90" y1="421.5" x2="184.90" y2="424.8" stroke="#222" stroke-width="1"/>
<text x="184.90" y="433.8" text-anchor="middle">240</text>
<line x1="203.95" y1="421.5" x2="203.95" y2="424.8" stroke="#222" stroke-width="1"/>
<text x="203.95" y="433.8" text-anchor="middle">270</text>
<line x1="223.00" y1="421.5" x2="223.00" y2="424.8" stroke="#222" stroke-width="1"/>
<text x="223.00" y="433.8" text-anchor="middle">300</text>
<line x1="242.05" y1="421.5" x2="242.05" y2="424.8" stroke="#222" stroke-width="1"/>
<text x="242.05" y="433.8" text-anchor="middle">330</text>
<line x1="261.10" y1="421.5" x2="261.10" y2="424.8" stroke="#222" stroke-width="1"/>
<text x="261.10" y="433.8" text-anchor="middle">360</text>
<line x1="280.15" y1="421.5" x2="280.15" y2="424.8" stroke="#222" stroke-width="1"/>
<text x="280.15" y="433.8" text-anchor="middle">390</text>
<line x1="299.20" y1="421.5" x2="299.20" y2="424.8" stroke="#222" stroke-width="1"/>
<text x="299.20" y="433.8" text-anchor="middle">420</text>
<line x1="318.25" y1="421.5" x2="318.25" y2="424.8" stroke="#222" stroke-width="1"/>
<text x="318.25" y="433.8" text-anchor="middle">450</text>
<line x1="337.30" y1="421.5" x2="337.30" y2="424.8" stroke="#222" stroke-width="1"/>
<text x="337.30" y="433.8" text-anchor="middle">480</text>
<line x1="356.35" y1="421.5" x2="356.35" y2="424.8" stroke="#222" stroke-width="1"/>
<text x="356.35" y="433.8" text-anchor="middle">510</text>
<line x1="375.40" y1="421.5" x2="375.40" y2="424.8" stroke="#222" stroke-width="1"/>
<text x="375.40" y="433.8" text-anchor="middle">540</text>
<line x1="394.45" y1="421.5" x2="394.45" y2="424.8" stroke="#222" stroke-width="1"/>
<text x="394.45" y="433.8" text-anchor="middle">570</text>
<line x1="413.50" y1="421.5" x2="413.50" y2="424.8" stroke="#222" stroke-width="1"/>
<text x="413.50" y="433.8" text-anchor="middle">600</text>
</g>
<text x="224.3" y="445.7" text-anchor="middle" font-size="9.5" font-weight="bold" fill="#2a2a2a" transform="translate(224.3 0) scale(0.58 1) translate(-224.3 0)">Days from initial BsAb SU dose</text>
<text transform="translate(13.2 214.3) rotate(-90) scale(0.6 1)" text-anchor="middle" font-size="9.5" font-weight="bold" fill="#2a2a2a">Patient</text>
<text x="426" y="138" font-size="6.4" fill="#333">Response:</text>
<g font-size="6.4" fill="#333">
<rect x="426.3" y="142.80" width="11.6" height="12.60" fill="#BEBFC0" stroke="rgba(40,30,40,0.7)" stroke-width="0.9"/>
<text x="441.2" y="151.40">Dose Delay</text>
<rect x="426.3" y="155.40" width="11.6" height="12.60" fill="#FAC314" stroke="rgba(40,30,40,0.7)" stroke-width="0.9"/>
<text x="441.2" y="164.00">CR</text>
<rect x="426.3" y="168.00" width="11.6" height="12.60" fill="#1E7062" stroke="rgba(40,30,40,0.7)" stroke-width="0.9"/>
<text x="441.2" y="176.60">sCR</text>
<rect x="426.3" y="180.60" width="11.6" height="12.60" fill="#3C96CD" stroke="rgba(40,30,40,0.7)" stroke-width="0.9"/>
<text x="441.2" y="189.20">VGPR</text>
<rect x="426.3" y="193.20" width="11.6" height="12.60" fill="#9658A5" stroke="rgba(40,30,40,0.7)" stroke-width="0.9"/>
<text x="441.2" y="201.80">PR</text>
<rect x="426.3" y="205.80" width="11.6" height="12.60" fill="#EE7855" stroke="rgba(40,30,40,0.7)" stroke-width="0.9"/>
<text x="441.2" y="214.40">SD / No Response</text>
<rect x="426.3" y="218.40" width="11.6" height="12.60" fill="#E00A55" stroke="rgba(40,30,40,0.7)" stroke-width="0.9"/>
<text x="441.2" y="227.00">PD</text>
<rect x="426.3" y="231.00" width="11.6" height="12.60" fill="#1A1B1A" stroke="rgba(40,30,40,0.7)" stroke-width="0.9"/>
<text x="441.2" y="239.60">NE</text>
</g>
<circle cx="432.1" cy="278.6" r="3.1" fill="#111"/>
<path d="M427.20 291.40L437.00 291.40M428.64 287.94L435.56 294.86M432.10 286.50L432.10 296.30M435.56 287.94L428.64 294.86" stroke="#333" stroke-width="0.7" fill="none"/><circle cx="432.10" cy="291.40" r="0.9" fill="#333"/>
<text x="442.9" y="280.9" font-size="6.4" fill="#333">Re–Initiated BsAb SUD</text>
<text x="442.9" y="293.8" font-size="6.4" fill="#333">Elevated LDH (≥250 U/L)</text>
</svg>
</body></html>
